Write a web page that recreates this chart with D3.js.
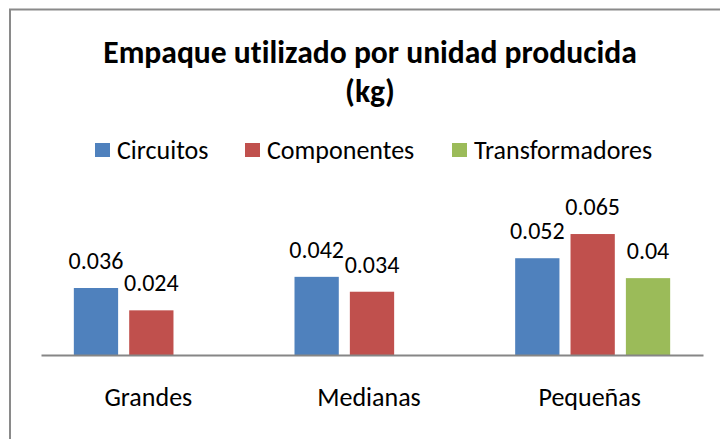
<!DOCTYPE html>
<html>
<head>
<meta charset="utf-8">
<script src="https://cdn.jsdelivr.net/npm/d3@7"></script>
<style>
  body { margin: 0; background: #fff; }
  svg { display: block; }
  text { font-family: Carlito, Lato, "Open Sans", sans-serif; fill: #000; font-variant-ligatures: none; }
</style>
</head>
<body>
<div id="viz"></div>
<script>
var width = 720,
    height = 439;

// data
var categories = ["Grandes", "Medianas", "Pequeñas"];
var series = ["Circuitos", "Componentes", "Transformadores"];
var circuitos = [0.036, 0.042, 0.052];
var componentes = [0.024, 0.034, 0.065];
var transformadores = [null, null, 0.0413]; // label shows 0.04, bar reads a bit higher
var valueLabels = [["0.036", "0.042", "0.052"], ["0.024", "0.034", "0.065"], [null, null, "0.04"]];

var colors = {"Circuitos": "#4F81BD", "Componentes": "#C0504D", "Transformadores": "#9BBB59"};

var values = [circuitos, componentes, transformadores];

var svg = d3.select("div#viz")
    .append("svg")
    .attr("width", width)
    .attr("height", height);

// chart border (right and bottom run off the picture)
svg.append("rect")
    .attr("x", 10)
    .attr("y", 9.5)
    .attr("width", width + 10)
    .attr("height", height + 10)
    .attr("fill", "#fff")
    .attr("stroke", "#8a8a8a")
    .attr("stroke-width", 2);

// title
var title = svg.append("text")
    .attr("text-anchor", "middle")
    .attr("font-weight", "bold")
    .attr("font-size", 31.6);
title.append("tspan").attr("x", 370).attr("y", 63).text("Empaque utilizado por unidad producida");
title.append("tspan").attr("x", 370).attr("y", 102).text("(kg)");

// legend
var legendX = [95, 245, 452];
var legend = svg.append("g").attr("class", "legend")
    .selectAll("g")
    .data(series)
    .enter().append("g")
    .attr("transform", function(d, i) { return "translate(" + legendX[i] + ",143)"; });

legend.append("rect")
    .attr("width", 15)
    .attr("height", 14)
    .attr("fill", function(d) { return colors[d]; });

legend.append("text")
    .attr("x", 22)
    .attr("y", 15.5)
    .attr("font-size", 26)
    .text(function(d) { return d; });

// scales
var x = d3.scaleBand()
    .domain(categories)
    .range([41, 703]);

var groupWidth = 155;
var xs = d3.scaleBand()
    .domain(series)
    .range([0, groupWidth])
    .paddingInner(0.2);

var y = d3.scaleLinear()
    .domain([0, 0.07])
    .range([355, 355 - 0.07 * 1861]);

var offset = (x.bandwidth() - groupWidth) / 2;

var bars = [];
series.forEach(function(s, si) {
    categories.forEach(function(c, ci) {
        if (values[si][ci] != null) {
            bars.push({series: s, cat: c, value: values[si][ci], label: valueLabels[si][ci]});
        }
    });
});

var barX = function(d) { return x(d.cat) + offset + xs(d.series); };

svg.append("g")
    .attr("class", "bars")
    .selectAll("rect")
    .data(bars)
    .enter().append("rect")
    .attr("x", barX)
    .attr("y", function(d) { return y(d.value); })
    .attr("width", xs.bandwidth())
    .attr("height", function(d) { return y(0) - y(d.value); })
    .attr("fill", function(d) { return colors[d.series]; });

// data labels
svg.append("g")
    .attr("class", "labels")
    .selectAll("text")
    .data(bars)
    .enter().append("text")
    .attr("x", function(d) { return barX(d) + xs.bandwidth() / 2; })
    .attr("y", function(d) { return y(d.value) - 19; })
    .attr("text-anchor", "middle")
    .attr("font-size", 24)
    .text(function(d) { return d.label; });

// category axis
var axis = svg.append("g")
    .attr("transform", "translate(0," + y(0) + ")")
    .call(d3.axisBottom(x).tickSize(0).tickPadding(0));

axis.attr("font-family", null).attr("font-size", null);

axis.select(".domain")
    .attr("stroke", "#868686")
    .attr("stroke-width", 2);

axis.selectAll(".tick text")
    .attr("dy", null)
    .attr("x", -3)
    .attr("y", 51)
    .attr("font-size", 26)
    .attr("fill", "#000");
</script>
</body>
</html>
